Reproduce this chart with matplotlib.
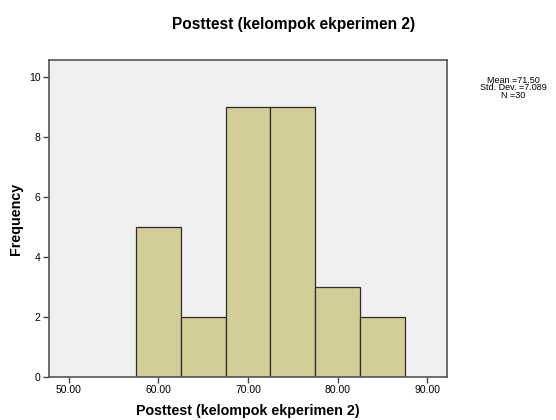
import numpy as np
import matplotlib
matplotlib.use("Agg")
import matplotlib.pyplot as plt

plt.rcParams['font.family'] = ['Liberation Sans', 'DejaVu Sans']

# histogram bins (edges) and counts
bin_edges = [57.5, 62.5, 67.5, 72.5, 77.5, 82.5, 87.5]
counts = [5, 2, 9, 9, 3, 2]
x_ticks = [50, 60, 70, 80, 90]
y_ticks = [0, 2, 4, 6, 8, 10]
title = "Posttest (kelompok ekperimen 2)"
stats_text = "Mean =71.50\nStd. Dev. =7.089\nN =30"

fig = plt.figure(figsize=(5.56, 4.2), dpi=100)
ax = fig.add_axes([49/556, 1 - 377/420, (447 - 49)/556, (377 - 60)/420])
ax.set_facecolor('#F0F0F0')

widths = np.diff(bin_edges)
ax.bar(bin_edges[:-1], counts, width=widths, align='edge',
       color='#D3CE98', edgecolor='#2b2b2b', linewidth=0.9)

ax.set_xlim(47.77, 92.23)
ax.set_ylim(0, 10.55)
ax.set_xticks(x_ticks)
ax.set_xticklabels([f"{v:.2f}" for v in x_ticks], fontsize=7.5)
ax.set_yticks(y_ticks)
ax.set_yticklabels([str(v) for v in y_ticks], fontsize=7.5)
ax.tick_params(direction='out', length=4, width=1, color='#444444', pad=2)

for s in ax.spines.values():
    s.set_color('#555555')
    s.set_linewidth(1.2)

ax.set_xlabel(title, fontsize=10.3, fontweight='bold', labelpad=6)
ax.set_ylabel("Frequency", fontsize=10.3, fontweight='bold', labelpad=4)

fig.text(294/556, 1 - 24/420, title, ha='center', va='center',
         fontsize=11.2, fontweight='bold')
fig.text(513.5/556, 1 - 88/420, stats_text, ha='center', va='center',
         fontsize=6.5, linespacing=0.82)

fig.savefig("out.png", dpi=100)
